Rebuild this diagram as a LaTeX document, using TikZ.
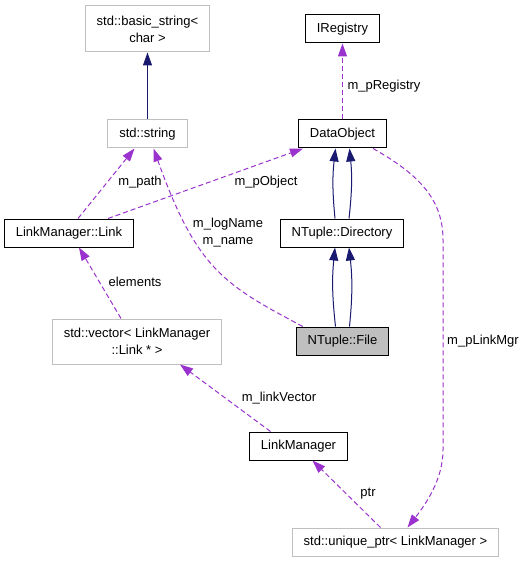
\documentclass[tikz,border=0pt]{standalone}
\usepackage{fontspec}
\setmainfont{Liberation Sans}
\usetikzlibrary{arrows.meta,positioning}
\definecolor{inhcol}{HTML}{191970}
\definecolor{usecol}{HTML}{9A32CD}
\definecolor{stdgray}{HTML}{BFBFBF}
\begin{document}
\begin{tikzpicture}[
    x=1bp, y=-1bp,
    font=\fontsize{13bp}{17bp}\selectfont,
    class node/.style={rectangle,draw=black,line width=1bp,inner xsep=11.5bp,inner ysep=0pt,minimum height=28bp,align=center},
    std node/.style={class node,draw=stdgray},
    file node/.style={class node,fill=stdgray},
    inherit/.style={draw=inhcol,line width=1bp,-{Triangle[length=13bp,width=9bp]}},
    member/.style={draw=usecol,line width=1bp,dash pattern=on 5bp off 3bp,-{Triangle[length=13bp,width=9bp]}},
    lbl/.style={inner sep=0pt,align=center}
]
\useasboundingbox (0,0) rectangle (524,563);

% Classes
\node[std node, minimum height=46bp] (bstring) at (147.5,29) {std::basic\_string<\\char >};
\node[std node] (sstring) at (147.5,134) {std::string};
\node[class node] (ireg) at (342.5,29) {IRegistry};
\node[class node] (dobj) at (342.5,134) {DataObject};
\node[class node] (link) at (69,233) {LinkManager::Link};
\node[class node] (dir) at (342,233) {NTuple::Directory};
\node[file node] (file) at (342.5,341) {NTuple::File};
\node[std node, minimum height=45bp] (vec) at (137,341.5) {std::vector< LinkManager\\::Link * >};
\node[class node] (lman) at (298.5,446) {LinkManager};
\node[std node] (uptr) at (395.5,542) {std::unique\_ptr< LinkManager >};

% Inheritance
\draw[inherit] (sstring) -- (bstring);
\draw[inherit] ([xshift=-7bp]dir.north) to[bend left=6] ([xshift=-7bp]dobj.south);
\draw[inherit] ([xshift=7bp]dir.north) to[bend right=6] ([xshift=7bp]dobj.south);
\draw[inherit] ([xshift=-7bp]file.north) to[bend left=6] ([xshift=-7bp]dir.south);
\draw[inherit] ([xshift=7bp]file.north) to[bend right=6] ([xshift=7bp]dir.south);

% Members
\draw[member] (dobj) -- (ireg);
\draw[member] ([xshift=9bp]link.north) -- ([xshift=-13bp]sstring.south);
\draw[member] ([xshift=39bp]link.north) -- ([xshift=5bp]dobj.south west);
\draw[member] ([xshift=7bp]file.north west) .. controls (225,285) and (197,270) .. ([xshift=6bp]sstring.south);
\draw[member] ([xshift=-16bp]vec.north) -- ([xshift=10bp]link.south);
\draw[member] ([xshift=-28bp]lman.north) -- ([xshift=43bp]vec.south);
\draw[member] ([xshift=-15bp]uptr.north) -- ([xshift=14bp]lman.south);
\draw[member] ([xshift=-14bp]dobj.south east) .. controls (420,175) and (443,200) .. (443,240)
    -- (443,450) .. controls (443,480) and (425,505) .. ([xshift=12bp]uptr.north);

% Labels
\node[lbl] (lregistry) at (384,86) {m\_pRegistry};
\node[lbl] (lpath) at (140,182) {m\_path};
\node[lbl] (lobject) at (266,182) {m\_pObject};
\node[lbl] (lname) at (228,232.5) {m\_logName\\m\_name};
\node[lbl] (lelements) at (135,282) {elements};
\node[lbl] (lvector) at (279,398) {m\_linkVector};
\node[lbl] (lptr) at (368,494) {ptr};
\node[lbl] (lmgr) at (483,341) {m\_pLinkMgr};

\end{tikzpicture}
\end{document}
